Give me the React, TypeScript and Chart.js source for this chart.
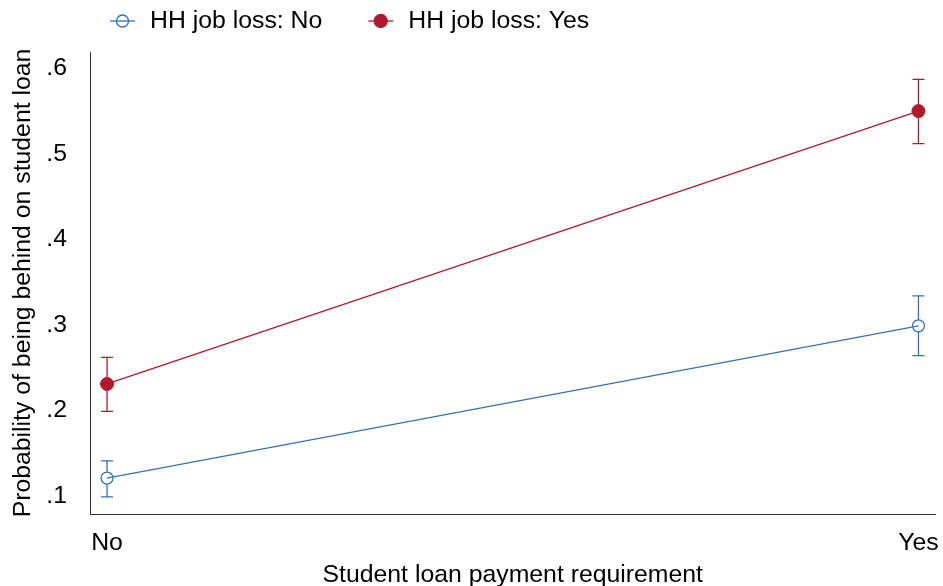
import React, { useEffect, useRef } from 'react';
import { Chart, registerables } from 'chart.js';

Chart.register(...registerables);

// ---- data ----
const categories = ['No', 'Yes'];
const seriesLabels = ['HH job loss: No', 'HH job loss: Yes'];
const jobLossNo = [0.121, 0.299];
const jobLossNoLower = [0.099, 0.264];
const jobLossNoUpper = [0.141, 0.334];
const jobLossYes = [0.231, 0.55];
const jobLossYesLower = [0.199, 0.512];
const jobLossYesUpper = [0.262, 0.587];
const yTicks = [0.1, 0.2, 0.3, 0.4, 0.5, 0.6];

const xTitle = 'Student loan payment requirement';
const yTitle = 'Probability of being behind on student loan';

// ---- styles ----
const BLUE = '#3271ba';
const RED = '#b2182b';
const FONT = '"Liberation Sans", Arial, Helvetica, sans-serif';
const FS = 24.8;
const AXIS = '#333333';

const errorBarPlugin = {
  id: 'errorBars',
  afterDatasetsDraw(chart: any) {
    const ctx = chart.ctx;
    const xs = chart.scales.x;
    const ys = chart.scales.y;
    ctx.save();
    chart.data.datasets.forEach((ds: any) => {
      ctx.strokeStyle = ds.borderColor;
      ctx.lineWidth = 1.3;
      const r = ds.pointRadius;
      ds.data.forEach((pt: any, i: number) => {
        const px = xs.getPixelForValue(pt.x);
        const py = ys.getPixelForValue(pt.y);
        const lo = ys.getPixelForValue(ds.lower[i]);
        const hi = ys.getPixelForValue(ds.upper[i]);
        const cap = 6;
        ctx.beginPath();
        ctx.moveTo(px, hi);
        ctx.lineTo(px, py - r);
        ctx.moveTo(px, py + r);
        ctx.lineTo(px, lo);
        ctx.moveTo(px - cap, hi);
        ctx.lineTo(px + cap, hi);
        ctx.moveTo(px - cap, lo);
        ctx.lineTo(px + cap, lo);
        ctx.stroke();
      });
    });
    ctx.restore();
  },
};

const legendPlugin = {
  id: 'customLegend',
  afterDraw(chart: any) {
    const ctx = chart.ctx;
    ctx.save();
    ctx.font = `${FS}px ${FONT}`;
    ctx.textBaseline = 'middle';
    ctx.textAlign = 'left';
    let x = 110;
    const y = 21;
    chart.data.datasets.forEach((ds: any) => {
      ctx.strokeStyle = ds.borderColor;
      ctx.lineWidth = 1.3;
      ctx.beginPath();
      ctx.moveTo(x, y);
      ctx.lineTo(x + 25, y);
      ctx.stroke();
      ctx.beginPath();
      ctx.arc(x + 12.5, y, ds.pointRadius, 0, Math.PI * 2);
      if (ds.pointBackgroundColor !== 'rgba(0,0,0,0)') {
        ctx.fillStyle = ds.pointBackgroundColor;
        ctx.fill();
      }
      ctx.stroke();
      ctx.fillStyle = '#000';
      ctx.fillText(ds.label, x + 40, y);
      x += 40 + ctx.measureText(ds.label).width + 46;
    });
    ctx.restore();
  },
};

export default function App() {
  const canvasRef = useRef<HTMLCanvasElement | null>(null);

  useEffect(() => {
    const canvas = canvasRef.current;
    if (!canvas) return;
    const toPoints = (vals: number[]) => vals.map((v, i) => ({ x: i, y: v }));
    const chart = new Chart(canvas, {
      type: 'line',
      data: {
        datasets: [
          {
            label: seriesLabels[0],
            data: toPoints(jobLossNo),
            lower: jobLossNoLower,
            upper: jobLossNoUpper,
            borderColor: BLUE,
            borderWidth: 1.3,
            pointRadius: 6,
            pointHoverRadius: 6,
            pointBorderWidth: 1.3,
            pointBorderColor: BLUE,
            pointBackgroundColor: 'rgba(0,0,0,0)',
            tension: 0,
            fill: false,
          } as any,
          {
            label: seriesLabels[1],
            data: toPoints(jobLossYes),
            lower: jobLossYesLower,
            upper: jobLossYesUpper,
            borderColor: RED,
            borderWidth: 1.3,
            pointRadius: 6.5,
            pointHoverRadius: 6.5,
            pointBorderWidth: 1,
            pointBorderColor: RED,
            pointBackgroundColor: RED,
            tension: 0,
            fill: false,
          } as any,
        ],
      },
      options: {
        animation: false,
        responsive: false,
        maintainAspectRatio: false,
        events: [],
        layout: { padding: { top: 52, right: 6, left: 0, bottom: 0 } },
        plugins: {
          legend: { display: false },
          tooltip: { enabled: false },
        },
        scales: {
          x: {
            type: 'linear',
            min: -0.021,
            max: 1.021,
            grid: { display: false },
            border: { display: true, color: AXIS, width: 1 },
            afterBuildTicks: (scale: any) => {
              scale.ticks = categories.map((_, i) => ({ value: i }));
            },
            afterFit: (scale: any) => {
              scale.height = 72;
              scale.paddingLeft = 0;
              scale.paddingRight = 0;
            },
            ticks: {
              autoSkip: false,
              maxRotation: 0,
              padding: 6,
              color: '#000',
              font: { family: FONT, size: FS },
              callback: (v: any) => categories[Math.round(Number(v))] ?? '',
            },
            title: {
              display: true,
              text: xTitle,
              color: '#000',
              font: { family: FONT, size: FS, lineHeight: 0.85 },
              padding: { top: 0, bottom: 0 },
            },
          },
          y: {
            type: 'linear',
            min: 0.079,
            max: 0.619,
            grid: { display: false },
            border: { display: true, color: AXIS, width: 1 },
            afterBuildTicks: (scale: any) => {
              scale.ticks = yTicks.map((v) => ({ value: v }));
            },
            afterFit: (scale: any) => {
              scale.width = 90;
              scale.paddingTop = 0;
              scale.paddingBottom = 0;
            },
            ticks: {
              padding: 15,
              color: '#000',
              font: { family: FONT, size: FS },
              callback: (v: any) => Number(v).toFixed(1).replace(/^0/, ''),
            },
            title: {
              display: true,
              text: yTitle,
              color: '#000',
              font: { family: FONT, size: FS, lineHeight: 1.2 },
              padding: { top: 8, bottom: 0 },
            },
          },
        },
      } as any,
      plugins: [errorBarPlugin, legendPlugin],
    });
    return () => chart.destroy();
  }, []);

  return (
    <div style={{ position: 'fixed', left: 0, top: 0, width: 943, height: 586, background: '#fff' }}>
      <canvas ref={canvasRef} width={943} height={586} style={{ display: 'block' }} />
    </div>
  );
}
